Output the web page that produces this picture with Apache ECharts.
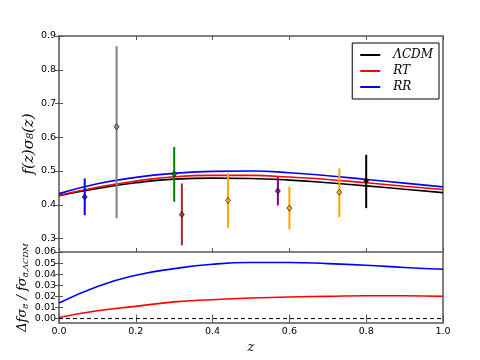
<!DOCTYPE html>
<html>
<head>
<meta charset="utf-8">
<script src="https://cdn.jsdelivr.net/npm/echarts@6/dist/echarts.min.js"></script>
<style>
  html, body { margin: 0; padding: 0; background: #fff; }
  #chart { width: 480px; height: 360px; }
</style>
</head>
<body>
<div id="chart"></div>
<script>
// redshift grid for the model curves
const zGrid = [0, 0.1, 0.2, 0.3, 0.4, 0.5, 0.6, 0.7, 0.8, 0.9, 1.0];

// f sigma8 (top panel)
const lcdmVals = [0.427, 0.448, 0.465, 0.476, 0.479, 0.478, 0.473, 0.465, 0.456, 0.446, 0.436];
const rtVals   = [0.428, 0.452, 0.470, 0.483, 0.487, 0.487, 0.482, 0.475, 0.465, 0.455, 0.445];
const rrVals   = [0.433, 0.462, 0.481, 0.493, 0.499, 0.500, 0.495, 0.486, 0.475, 0.464, 0.453];

// relative difference to LCDM (bottom panel)
const rtDiff = [0.001, 0.007, 0.011, 0.015, 0.017, 0.0185, 0.0195, 0.020, 0.0205, 0.0205, 0.020];
const rrDiff = [0.014, 0.029, 0.039, 0.045, 0.049, 0.0505, 0.0505, 0.0495, 0.048, 0.046, 0.0445];
const zeroLine = [0, 0];
const zeroLineZ = [0, 1];

// measurements
const pointZ    = [0.067, 0.15, 0.30, 0.32, 0.44, 0.57, 0.60, 0.73, 0.80];
const pointVal  = [0.423, 0.631, 0.491, 0.371, 0.413, 0.441, 0.390, 0.437, 0.471];
const pointLow  = [0.369, 0.360, 0.409, 0.280, 0.332, 0.398, 0.327, 0.364, 0.390];
const pointHigh = [0.478, 0.870, 0.571, 0.463, 0.493, 0.482, 0.453, 0.508, 0.548];
const pointColors = ['#0000ff', '#808080', '#008000', '#a52a2a', '#ffa500', '#800080', '#ffa500', '#ffa500', '#000000'];

// tick labels
const xTicks = [0, 0.2, 0.4, 0.6, 0.8, 1.0];
const topTicks = [0.3, 0.4, 0.5, 0.6, 0.7, 0.8, 0.9];
const bottomTicks = [0, 0.01, 0.02, 0.03, 0.04, 0.05, 0.06];

const chart = echarts.init(document.getElementById('chart'));

const frame = '#808080';
const tickStyle = { show: true, inside: true, length: 4, lineStyle: { color: '#555', width: 1 } };
const labelFont = { fontFamily: 'DejaVu Sans', fontSize: 9.5, color: '#000' };
const mathFont = { fontFamily: 'DejaVu Serif', fontStyle: 'italic', color: '#000' };

function xAxisFor(gridIndex, position, labels) {
  return {
    type: 'value', gridIndex, position, min: 0, max: 1,
    axisLine: { show: false },
    axisTick: Object.assign({ customValues: xTicks }, tickStyle),
    axisLabel: labels
      ? Object.assign({ customValues: xTicks, margin: 4, formatter: v => v.toFixed(1) }, labelFont)
      : { show: false },
    splitLine: { show: false }
  };
}

function yAxisFor(gridIndex, position, min, max, ticks, digits, labels) {
  return {
    type: 'value', gridIndex, position, min, max,
    axisLine: { show: false },
    axisTick: Object.assign({ customValues: ticks }, tickStyle),
    axisLabel: labels
      ? Object.assign({ customValues: ticks, margin: 3, formatter: v => v.toFixed(digits) }, labelFont)
      : { show: false },
    splitLine: { show: false }
  };
}

const pairs = (xs, ys) => xs.map((x, i) => [x, ys[i]]);

const xAxes = [
  xAxisFor(0, 'bottom', false),
  xAxisFor(0, 'top', false),
  Object.assign(xAxisFor(1, 'bottom', true), {
    name: 'z', nameLocation: 'middle', nameGap: 18, nameMoveOverlap: false,
    nameTextStyle: Object.assign({ fontSize: 13 }, mathFont)
  }),
  xAxisFor(1, 'top', false)
];

const yAxes = [
  Object.assign(yAxisFor(0, 'left', 0.26, 0.9, topTicks, 1, true), {
    name: 'f(z)σ₈(z)', nameLocation: 'middle', nameGap: 22, nameRotate: 90, nameMoveOverlap: false,
    nameTextStyle: Object.assign({ fontSize: 15 }, mathFont)
  }),
  yAxisFor(0, 'right', 0.26, 0.9, topTicks, 1, false),
  Object.assign(yAxisFor(1, 'left', -0.004, 0.06, bottomTicks, 2, true), {
    name: '{m|Δfσ}{s|8}{m| / fσ}{s|8,ΛCDM}', nameLocation: 'middle', nameGap: 29, nameRotate: 90,
    nameMoveOverlap: false,
    nameTextStyle: Object.assign({
      fontSize: 13,
      rich: {
        m: Object.assign({ fontSize: 13 }, mathFont),
        s: Object.assign({ fontSize: 8, padding: [6, 0, 0, 0] }, mathFont)
      }
    }, mathFont)
  }),
  yAxisFor(1, 'right', -0.004, 0.06, bottomTicks, 2, false)
];

const curve = (name, xs, ys, color, xi, yi) => ({
  name, type: 'line', xAxisIndex: xi, yAxisIndex: yi,
  data: pairs(xs, ys), smooth: true, showSymbol: false, silent: true,
  lineStyle: { color, width: 1.6 }, itemStyle: { color }, z: 2
});

const option = {
  animation: false,
  backgroundColor: '#fff',
  grid: [
    { left: 59, right: 37, top: 36, height: 216, show: true, borderColor: frame, borderWidth: 2, backgroundColor: 'transparent' },
    { left: 59, right: 37, top: 252, height: 71, show: true, borderColor: frame, borderWidth: 2, backgroundColor: 'transparent' }
  ],
  legend: {
    data: ['ΛCDM', 'RT', 'RR'],
    orient: 'vertical',
    right: 41, top: 43,
    padding: [6, 6, 6, 8],
    itemGap: 4,
    itemWidth: 20, itemHeight: 2,
    icon: 'rect',
    borderColor: '#000', borderWidth: 1, borderRadius: 0,
    backgroundColor: '#fff',
    textStyle: Object.assign({ fontSize: 12, width: 44, padding: [0, 0, 0, 8] }, mathFont)
  },
  xAxis: xAxes,
  yAxis: yAxes,
  series: [
    curve('ΛCDM', zGrid, lcdmVals, '#000000', 0, 0),
    curve('RT', zGrid, rtVals, '#ff0000', 0, 0),
    curve('RR', zGrid, rrVals, '#0000ff', 0, 0),
    curve('RT', zGrid, rtDiff, '#ff0000', 2, 2),
    curve('RR', zGrid, rrDiff, '#0000ff', 2, 2),
    {
      type: 'line', xAxisIndex: 2, yAxisIndex: 2, silent: true, showSymbol: false,
      data: pairs(zeroLineZ, zeroLine),
      lineStyle: { color: '#000', width: 1, type: [4, 3] }
    },
    {
      type: 'custom', xAxisIndex: 0, yAxisIndex: 0, silent: true, z: 3,
      data: pointZ.map((z, i) => [z, pointLow[i], pointHigh[i]]),
      encode: { x: 0, y: [1, 2] },
      renderItem: (params, api) => {
        const lo = api.coord([api.value(0), api.value(1)]);
        const hi = api.coord([api.value(0), api.value(2)]);
        return {
          type: 'line',
          shape: { x1: lo[0], y1: lo[1], x2: hi[0], y2: hi[1] },
          style: { stroke: pointColors[params.dataIndex], lineWidth: 2 }
        };
      }
    },
    {
      type: 'scatter', xAxisIndex: 0, yAxisIndex: 0, silent: true, z: 4,
      symbol: 'diamond', symbolSize: [5, 6],
      data: pointZ.map((z, i) => ({
        value: [z, pointVal[i]],
        itemStyle: { color: pointColors[i], borderColor: '#000', borderWidth: 0.8 }
      }))
    }
  ]
};

chart.setOption(option);
</script>
</body>
</html>
